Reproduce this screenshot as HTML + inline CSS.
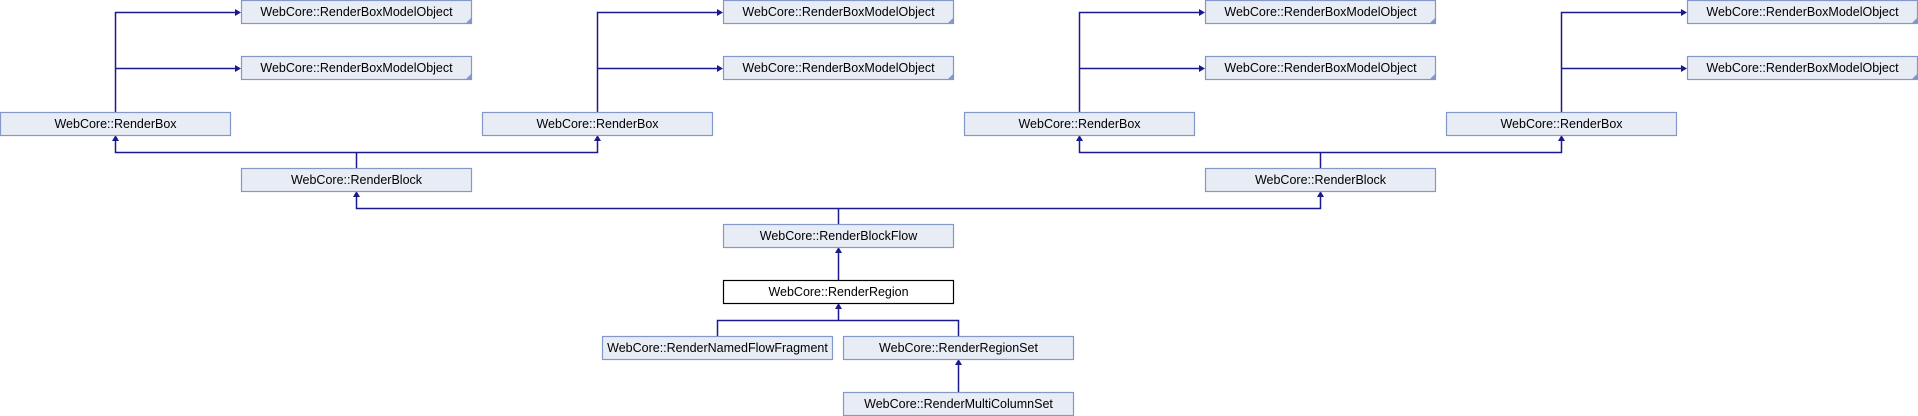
<!DOCTYPE html>
<html><head><meta charset="utf-8"><style>
html,body{margin:0;padding:0;background:#fff;}
svg{display:block}
text{font-family:"Liberation Sans",sans-serif;font-size:12.5px;fill:#000;text-anchor:middle}
.b{fill:#e8ecf5;stroke:#8497c9;stroke-width:1.2}
.w{fill:#fff;stroke:#000;stroke-width:1.2}
.l{stroke:#1a1a8e;stroke-width:1.5;fill:none}
.a{fill:#1a1a8e}
.c{fill:#8497c9}
</style></head><body>
<svg width="1918" height="416" viewBox="0 0 1918 416" xmlns="http://www.w3.org/2000/svg">
<g id="conn">
<!-- RenderBox -> RBMO lines, 4 columns -->
<path class="l" d="M115.5 112V12.5H236M115.5 68.5H236"/>
<path class="l" d="M597.5 112V12.5H718M597.5 68.5H718"/>
<path class="l" d="M1079.5 112V12.5H1200M1079.5 68.5H1200"/>
<path class="l" d="M1561.5 112V12.5H1682M1561.5 68.5H1682"/>
<polygon class="a" points="241,12.5 235,9 235,16"/>
<polygon class="a" points="241,68.5 235,65 235,72"/>
<polygon class="a" points="723,12.5 717,9 717,16"/>
<polygon class="a" points="723,68.5 717,65 717,72"/>
<polygon class="a" points="1205,12.5 1199,9 1199,16"/>
<polygon class="a" points="1205,68.5 1199,65 1199,72"/>
<polygon class="a" points="1687,12.5 1681,9 1681,16"/>
<polygon class="a" points="1687,68.5 1681,65 1681,72"/>
<!-- RenderBlock -> RenderBox -->
<path class="l" d="M356.5 168V152.5M115.5 141V152.5H597.5V141"/>
<path class="l" d="M1320.5 168V152.5M1079.5 141V152.5H1561.5V141"/>
<polygon class="a" points="115.5,135 112,141 119,141"/>
<polygon class="a" points="597.5,135 594,141 601,141"/>
<polygon class="a" points="1079.5,135 1076,141 1083,141"/>
<polygon class="a" points="1561.5,135 1558,141 1565,141"/>
<!-- RenderBlockFlow -> RenderBlock -->
<path class="l" d="M838.5 224V208.5M356.5 197V208.5H1320.5V197"/>
<polygon class="a" points="356.5,191 353,197 360,197"/>
<polygon class="a" points="1320.5,191 1317,197 1324,197"/>
<!-- RenderRegion -> RenderBlockFlow -->
<path class="l" d="M838.5 280V253"/>
<polygon class="a" points="838.5,247 835,253 842,253"/>
<!-- children -> RenderRegion -->
<path class="l" d="M717.5 336V320.5H958.5V336M838.5 320.5V309"/>
<polygon class="a" points="838.5,303 835,309 842,309"/>
<!-- MultiColumnSet -> RegionSet -->
<path class="l" d="M958.5 392V365"/>
<polygon class="a" points="958.5,359 955,365 962,365"/>
</g>
<g>
<rect class="b" x="241.5" y="0.5" width="230" height="23"/><polygon class="c" points="471.5,17.5 471.5,23.5 465.5,23.5"/><text x="356.5" y="16">WebCore::RenderBoxModelObject</text>
<rect class="b" x="241.5" y="56.5" width="230" height="23"/><polygon class="c" points="471.5,73.5 471.5,79.5 465.5,79.5"/><text x="356.5" y="72">WebCore::RenderBoxModelObject</text>
<rect class="b" x="723.5" y="0.5" width="230" height="23"/><polygon class="c" points="953.5,17.5 953.5,23.5 947.5,23.5"/><text x="838.5" y="16">WebCore::RenderBoxModelObject</text>
<rect class="b" x="723.5" y="56.5" width="230" height="23"/><polygon class="c" points="953.5,73.5 953.5,79.5 947.5,79.5"/><text x="838.5" y="72">WebCore::RenderBoxModelObject</text>
<rect class="b" x="1205.5" y="0.5" width="230" height="23"/><polygon class="c" points="1435.5,17.5 1435.5,23.5 1429.5,23.5"/><text x="1320.5" y="16">WebCore::RenderBoxModelObject</text>
<rect class="b" x="1205.5" y="56.5" width="230" height="23"/><polygon class="c" points="1435.5,73.5 1435.5,79.5 1429.5,79.5"/><text x="1320.5" y="72">WebCore::RenderBoxModelObject</text>
<rect class="b" x="1687.5" y="0.5" width="230" height="23"/><polygon class="c" points="1917.5,17.5 1917.5,23.5 1911.5,23.5"/><text x="1802.5" y="16">WebCore::RenderBoxModelObject</text>
<rect class="b" x="1687.5" y="56.5" width="230" height="23"/><polygon class="c" points="1917.5,73.5 1917.5,79.5 1911.5,79.5"/><text x="1802.5" y="72">WebCore::RenderBoxModelObject</text>

<rect class="b" x="0.5" y="112.5" width="230" height="23"/><text x="115.5" y="128">WebCore::RenderBox</text>
<rect class="b" x="482.5" y="112.5" width="230" height="23"/><text x="597.5" y="128">WebCore::RenderBox</text>
<rect class="b" x="964.5" y="112.5" width="230" height="23"/><text x="1079.5" y="128">WebCore::RenderBox</text>
<rect class="b" x="1446.5" y="112.5" width="230" height="23"/><text x="1561.5" y="128">WebCore::RenderBox</text>

<rect class="b" x="241.5" y="168.5" width="230" height="23"/><text x="356.5" y="184">WebCore::RenderBlock</text>
<rect class="b" x="1205.5" y="168.5" width="230" height="23"/><text x="1320.5" y="184">WebCore::RenderBlock</text>

<rect class="b" x="723.5" y="224.5" width="230" height="23"/><text x="838.5" y="240">WebCore::RenderBlockFlow</text>
<rect class="w" x="723.5" y="280.5" width="230" height="23"/><text x="838.5" y="296">WebCore::RenderRegion</text>
<rect class="b" x="602.5" y="336.5" width="230" height="23"/><text x="717.5" y="352">WebCore::RenderNamedFlowFragment</text>
<rect class="b" x="843.5" y="336.5" width="230" height="23"/><text x="958.5" y="352">WebCore::RenderRegionSet</text>
<rect class="b" x="843.5" y="392.5" width="230" height="23"/><text x="958.5" y="408">WebCore::RenderMultiColumnSet</text>
</g>
</svg>
</body></html>
